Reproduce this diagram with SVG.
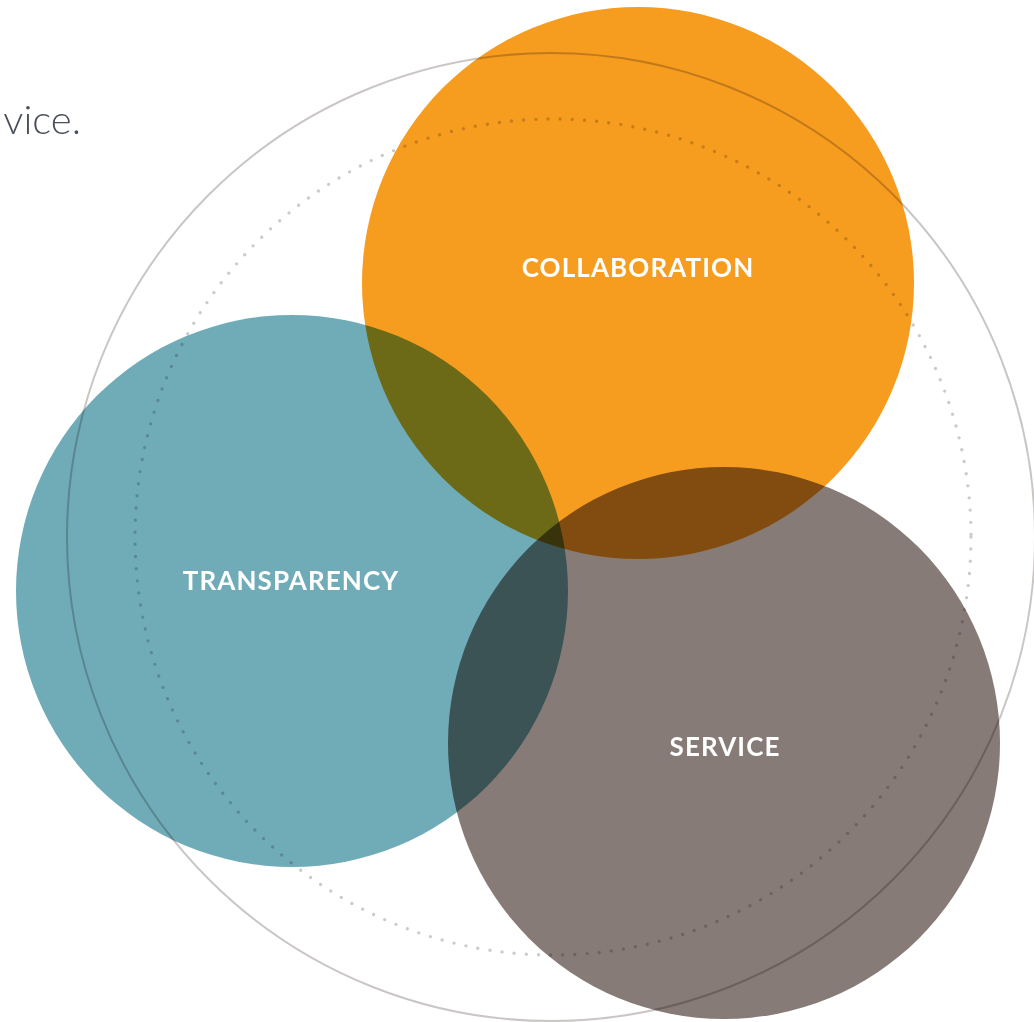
<svg xmlns="http://www.w3.org/2000/svg" width="1034" height="1022" viewBox="0 0 1034 1022">
  <style>
    .ring { fill: none; stroke: #cbc6c6; stroke-width: 2; }
    .dots { fill: none; stroke: #cfcaca; stroke-width: 3.4; stroke-linecap: round; stroke-dasharray: 0 12.2; }
    .blob { mix-blend-mode: multiply; }
    .label { font-family: Lato, "Open Sans", "Liberation Sans", sans-serif; font-weight: 700; font-size: 26px; letter-spacing: 1.1px; fill: #ffffff; text-anchor: middle; }
    .intro { font-family: Lato, "Open Sans", "Liberation Sans", sans-serif; font-weight: 300; font-size: 40px; fill: #4a4f59; }
  </style>
  <rect width="1034" height="1022" fill="#ffffff"/>
  <text class="intro" x="81" y="134" text-anchor="end">vice.</text>

  <g id="guides">
    <circle class="ring" cx="551" cy="537" r="484"/>
    <circle class="dots" cx="553" cy="537" r="418"/>
  </g>

  <g id="collaboration">
    <circle class="blob" cx="638" cy="283" r="276" fill="#f69c1f"/>
  </g>
  <g id="transparency">
    <circle class="blob" cx="292" cy="591" r="276" fill="#70acb8"/>
  </g>
  <g id="service">
    <circle class="blob" cx="724" cy="743" r="276" fill="#877b77"/>
  </g>

  <g id="labels">
    <text class="label" x="638" y="277">COLLABORATION</text>
    <text class="label" x="291" y="590">TRANSPARENCY</text>
    <text class="label" x="725" y="756">SERVICE</text>
  </g>
</svg>
